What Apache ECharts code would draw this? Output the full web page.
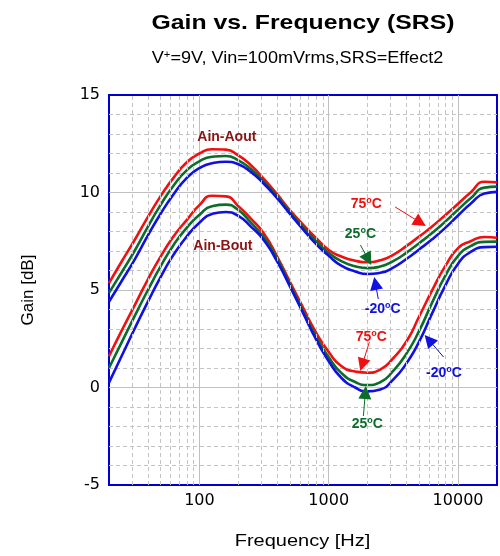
<!DOCTYPE html>
<html><head><meta charset="utf-8">
<script src="https://cdn.jsdelivr.net/npm/echarts@6/dist/echarts.min.js"></script>
<style>html,body{margin:0;padding:0;background:#fff}#c{width:500px;height:556px}</style>
</head><body><div id="c"></div>
<script>
const FONT = 'Arial, "Liberation Sans", sans-serif';
const TICKFONT = '"DejaVu Sans", Arial, sans-serif';

// Frequencies (Hz)
const freqs = [20, 25, 31.5, 40, 50, 63, 80, 100, 125, 160, 200, 250, 315, 400, 500, 630, 800, 1000, 1250, 1600, 2000, 2500, 3150, 4000, 5000, 6300, 8000, 10000, 12500, 16000, 20000];

// Ain-Aout gain (dB)
const aout75 = [5.35, 6.45, 7.55, 8.75, 9.8, 10.75, 11.55, 12.0, 12.22, 12.2, 11.9, 11.4, 10.7, 9.9, 9.1, 8.37, 7.66, 7.05, 6.72, 6.5, 6.42, 6.52, 6.8, 7.26, 7.74, 8.26, 8.85, 9.42, 10.0, 10.55, 10.52];
const aout25 = [4.85, 5.9, 7.0, 8.25, 9.35, 10.35, 11.15, 11.6, 11.83, 11.87, 11.65, 11.2, 10.55, 9.8, 9.0, 8.25, 7.5, 6.9, 6.48, 6.22, 6.12, 6.2, 6.48, 6.92, 7.4, 7.92, 8.52, 9.12, 9.7, 10.25, 10.3];
const aoutM20 = [4.4, 5.45, 6.55, 7.8, 8.9, 9.9, 10.75, 11.25, 11.5, 11.58, 11.45, 11.05, 10.45, 9.7, 8.92, 8.12, 7.35, 6.75, 6.25, 5.95, 5.82, 5.88, 6.15, 6.6, 7.08, 7.6, 8.2, 8.82, 9.42, 9.95, 10.03];

// Ain-Bout gain (dB)
const bout75 = [1.6, 2.9, 4.2, 5.55, 6.7, 7.74, 8.6, 9.35, 9.83, 9.8, 9.3, 8.66, 7.9, 6.7, 5.43, 4.12, 2.8, 1.82, 1.1, 0.82, 0.76, 0.92, 1.5, 2.37, 3.64, 4.98, 6.25, 7.15, 7.5, 7.72, 7.68];
const bout25 = [1.0, 2.3, 3.65, 5.0, 6.2, 7.3, 8.2, 8.85, 9.3, 9.38, 9.1, 8.45, 7.7, 6.6, 5.3, 3.95, 2.6, 1.55, 0.75, 0.28, 0.13, 0.27, 0.85, 1.75, 2.9, 4.35, 5.75, 6.75, 7.25, 7.47, 7.48];
const boutM20 = [0.25, 1.6, 3.0, 4.4, 5.65, 6.8, 7.75, 8.45, 8.9, 9.0, 8.8, 8.25, 7.55, 6.45, 5.2, 3.85, 2.45, 1.35, 0.5, 0.0, -0.2, -0.1, 0.4, 1.25, 2.35, 3.8, 5.25, 6.35, 6.95, 7.2, 7.22];

// Minor vertical grid frequencies
const minorFreqs = [30, 40, 50, 60, 70, 80, 90, 200, 300, 400, 500, 600, 700, 800, 900, 2000, 3000, 4000, 5000, 6000, 7000, 8000, 9000];
const xTickLabels = [100, 1000, 10000];

const RED = '#f01010', GREEN = '#0c6c2a', BLUE = '#1010e0', DARKRED = '#8b1414';

function pts(vals) { return freqs.map((f, i) => [f, vals[i]]); }
function rich(color) {
  return {
    t: { color, fontSize: 14, fontWeight: 'bold', fontFamily: FONT, lineHeight: 16 },
    s: { color, fontSize: 9, fontWeight: 'bold', fontFamily: FONT, verticalAlign: 'top', lineHeight: 10 }
  };
}
function textPoint(coord, fmt, color) {
  return { coord, value: 0, label: { show: true, position: 'inside', formatter: fmt, rich: rich(color) } };
}
function arrow(from, to) { return [{ coord: from }, { coord: to }]; }

function curve(name, vals, color, labels, arrows) {
  return {
    name, type: 'line', data: pts(vals), smooth: 0.55, showSymbol: false, z: 3,
    lineStyle: { color, width: 2.6 },
    markPoint: {
      symbol: 'rect', symbolSize: 1, itemStyle: { color: 'rgba(0,0,0,0)' }, silent: true,
      data: labels
    },
    markLine: {
      silent: true, symbol: ['none', 'triangle'], symbolSize: 13,
      lineStyle: { color, width: 1, type: 'solid' }, itemStyle: { color }, label: { show: false },
      data: arrows
    }
  };
}

const series = [
  {
    type: 'line', data: [], z: 1, silent: true,
    markLine: {
      silent: true, symbol: 'none', label: { show: false },
      lineStyle: { color: '#c4c4c4', type: [4, 3], width: 1 },
      data: minorFreqs.map(f => ({ xAxis: f }))
    },
    markPoint: {
      symbol: 'rect', symbolSize: 1, itemStyle: { color: 'rgba(0,0,0,0)' }, silent: true,
      data: [
        textPoint([163, 12.85], '{t|Ain-Aout}', DARKRED),
        textPoint([152, 7.26], '{t|Ain-Bout}', DARKRED)
      ]
    }
  },
  curve('Aout 75', aout75, RED,
    [textPoint([1955, 9.41], '{t|75}{s|o}{t|C}', RED)],
    [arrow([3260, 9.26], [5105, 8.46])]),
  curve('Aout 25', aout25, GREEN,
    [textPoint([1758, 7.87], '{t|25}{s|o}{t|C}', GREEN)],
    [arrow([1758, 7.31], [2018, 6.57])]),
  curve('Aout -20', aoutM20, BLUE,
    [textPoint([2612, 4.03], '{t|-20}{s|o}{t|C}', BLUE)],
    [arrow([2415, 4.54], [2296, 5.34])]),
  curve('Bout 75', bout75, RED,
    [textPoint([2133, 2.59], '{t|75}{s|o}{t|C}', RED)],
    [arrow([2061, 2.33], [1816, 1.16])]),
  curve('Bout 25', bout25, GREEN,
    [textPoint([1986, -1.87], '{t|25}{s|o}{t|C}', GREEN)],
    [arrow([1853, -1.46], [1919, -0.26])]),
  curve('Bout -20', boutM20, BLUE,
    [textPoint([7780, 0.74], '{t|-20}{s|o}{t|C}', BLUE)],
    [arrow([7727, 1.56], [5945, 2.44])])
];

const chart = echarts.init(document.getElementById('c'), null, { renderer: 'canvas' });
chart.setOption({
  animation: false,
  backgroundColor: '#ffffff',
  graphic: [
    { type: 'text', x: 303, y: 23, scaleX: 1.18, style: { text: 'Gain vs. Frequency (SRS)', font: 'bold 21px ' + FONT, fill: '#000', textAlign: 'center', textVerticalAlign: 'middle' } },
    { type: 'text', x: 297.5, y: 59, scaleX: 1.13, style: { text: '{a|V}{b|+}{a|=9V, Vin=100mVrms,SRS=Effect2}', textAlign: 'center', textVerticalAlign: 'middle',
      rich: { a: { font: '16px ' + FONT, fill: '#000', lineHeight: 18 }, b: { font: '10px ' + FONT, fill: '#000', verticalAlign: 'top', lineHeight: 11 } } } },
    { type: 'text', x: 302.5, y: 542, scaleX: 1.25, style: { text: 'Frequency [Hz]', font: '16px ' + FONT, fill: '#000', textAlign: 'center', textVerticalAlign: 'middle' } }
  ],
  grid: { left: 109, top: 95, width: 390, height: 390, show: true, borderColor: '#0000cc', borderWidth: 2, backgroundColor: 'rgba(0,0,0,0)' },
  xAxis: {
    type: 'log', logBase: 10, min: 20, max: 20000,
    axisLine: { show: false }, axisTick: { show: false },
    axisLabel: { fontSize: 16, fontFamily: TICKFONT, color: '#000', margin: 8,
      formatter: v => xTickLabels.some(t => Math.abs(t - v) < 1e-6 * t) ? String(Math.round(v)) : '' },
    splitLine: { show: true, showMinLine: false, showMaxLine: false, lineStyle: { color: '#c0c0c0', width: 1 } }
  },
  yAxis: {
    type: 'value', min: -5, max: 15, interval: 5,
    name: 'Gain [dB]', nameLocation: 'middle', nameGap: 72,
    nameTextStyle: { fontSize: 17, fontFamily: FONT, color: '#000' },
    axisLine: { show: false }, axisTick: { show: false },
    axisLabel: { fontSize: 16, fontFamily: TICKFONT, color: '#000', margin: 9 },
    splitLine: { show: true, showMinLine: false, showMaxLine: false, lineStyle: { color: '#c0c0c0', width: 1 } },
    minorTick: { show: false, splitNumber: 5 },
    minorSplitLine: { show: true, lineStyle: { color: '#c4c4c4', type: [4, 3], width: 1 } }
  },
  series
});
</script></body></html>
